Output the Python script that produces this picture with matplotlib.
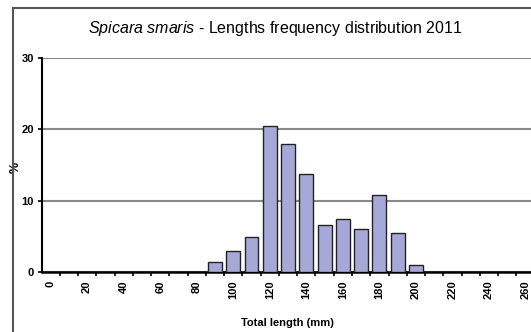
import numpy as np
import matplotlib.pyplot as plt
from matplotlib.patches import Rectangle

# length classes (mm) and frequency (%)
classes = list(range(0, 270, 10))
freq = [0, 0, 0, 0, 0, 0, 0, 0, 0, 1.4, 2.9, 4.9, 20.4, 18.0, 13.8, 6.6,
        7.5, 6.0, 10.8, 5.5, 1.0, 0, 0, 0, 0, 0, 0]
tick_labels = [str(c) for c in classes[::2]]

plt.rcParams["font.family"] = ["Liberation Sans", "DejaVu Sans"]
plt.rcParams["mathtext.fontset"] = "custom"
plt.rcParams["mathtext.rm"] = "Liberation Sans"
plt.rcParams["mathtext.it"] = "Liberation Sans:italic"

fig = plt.figure(figsize=(5.31, 3.32), dpi=100)
fig.patches.append(Rectangle((13 / 531, -0.1), 1.2, (332 - 8) / 332 + 0.1,
                             transform=fig.transFigure, fill=False,
                             edgecolor="#555555", linewidth=1.5))

ax = fig.add_axes([42 / 531, 60 / 332, 1 - 42 / 531, 214 / 332])
x = np.arange(len(classes))
ax.bar(x, freq, width=0.76, color="#a6a9d8", edgecolor="#222222", linewidth=1.0, zorder=3)

ax.set_ylim(0, 30)
ax.set_yticks([0, 10, 20, 30])
ax.set_yticklabels(["0", "10", "20", "30"], fontsize=8, fontweight="bold")
ax.yaxis.grid(True, color="#888888", linewidth=1.5, zorder=0)
ax.set_xlim(-0.47, 26.3)

ax.set_xticks(x[::2])
ax.set_xticklabels(tick_labels, rotation=90, fontsize=8, fontweight="bold")
ax.tick_params(axis="x", which="major", length=0, pad=6)
ax.set_xticks(x[:-1] + 0.5, minor=True)
ax.tick_params(axis="x", which="minor", length=3, width=1.2, direction="out")
ax.tick_params(axis="y", length=3, width=1.2, pad=3)

for s in ["top", "right"]:
    ax.spines[s].set_visible(False)
ax.spines["left"].set_linewidth(1.5)
ax.spines["bottom"].set_linewidth(1.8)

ax.set_ylabel("%", fontsize=9, fontweight="bold")
ax.yaxis.set_label_coords(-20 / 489, 0.49)
ax.set_xlabel("Total length (mm)", fontsize=8, fontweight="bold")
ax.xaxis.set_label_coords(245 / 489, -46 / 214)

fig.text(275 / 531, 1 - 28 / 332, r"$\it{Spicara\ smaris}$ - Lengths frequency distribution 2011",
         ha="center", va="center", fontsize=11.5)

fig.savefig("out.png", dpi=100, facecolor="white")
